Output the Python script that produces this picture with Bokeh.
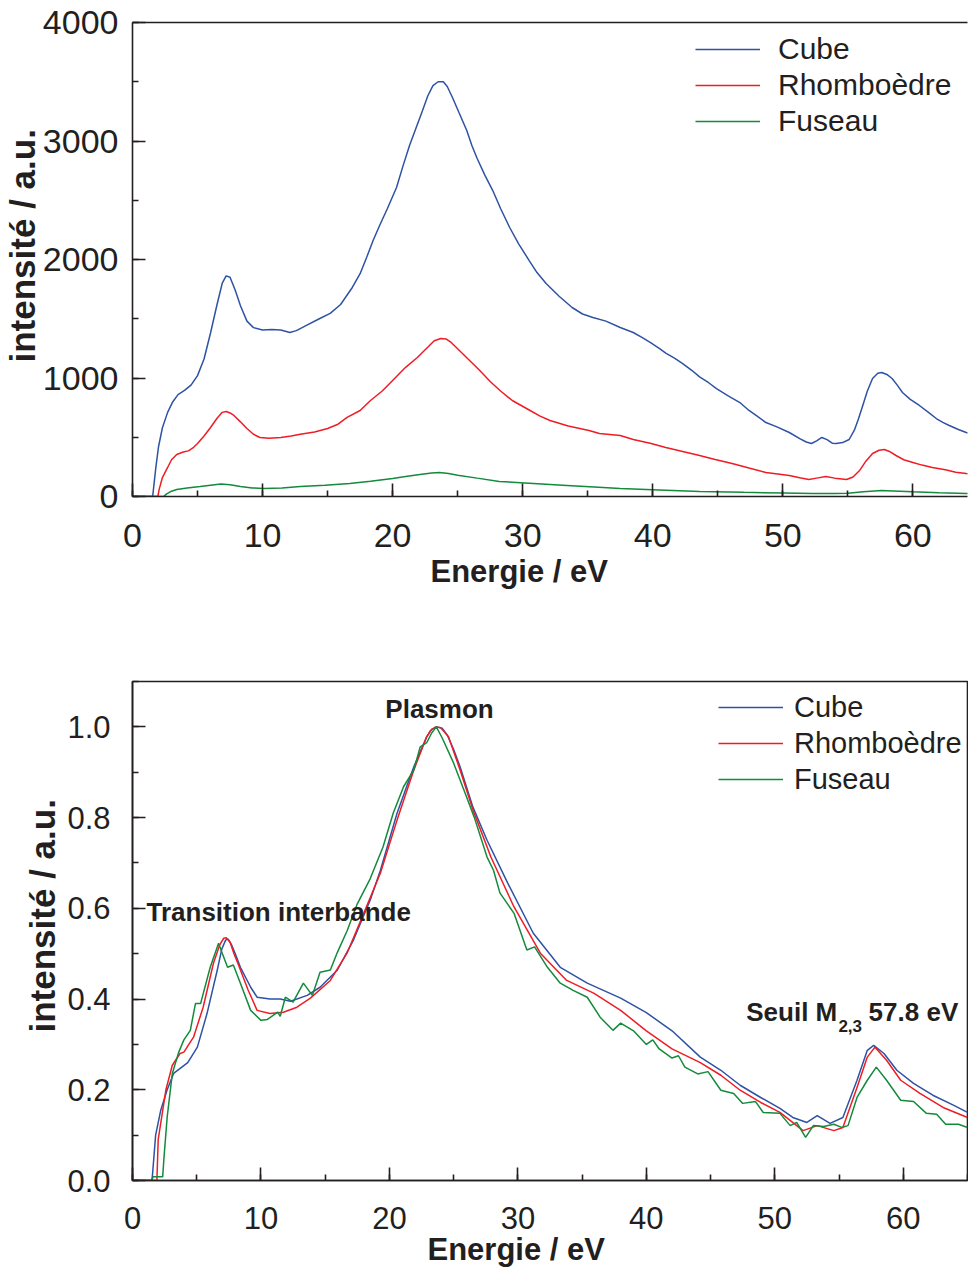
from bokeh.plotting import figure
from bokeh.models import (Range1d, LinearAxis, Legend, LegendItem, Label, SingleIntervalTicker,
                          FixedTicker, PrintfTickFormatter, Title)
from bokeh.layouts import column
from bokeh.embed import file_html
from bokeh.resources import INLINE

# ---------------- data: top panel (raw intensity) ----------------
cube_E = [0, 1.55, 1.65, 1.8, 2.0, 2.3, 2.7, 3.1, 3.5, 4.0, 4.5, 5.0, 5.5, 6.0, 6.5, 6.9, 7.2, 7.5, 7.9, 8.3,
          8.8, 9.3, 10.0, 10.7, 11.4, 12.1, 12.6, 13.3, 14.4, 15.2, 16.0, 16.9, 17.5, 18.0, 18.5, 19.0, 19.6,
          20.3, 20.8, 21.3, 21.8, 22.3, 22.7, 23.1, 23.5, 23.9, 24.2, 24.6, 25.1, 25.7, 26.1, 26.5, 27.1,
          27.7, 28.3, 29.0, 29.7, 30.5, 31.1, 31.8, 32.8, 33.8, 34.6, 35.4, 36.4, 37.5, 38.5, 39.2, 39.8,
          40.5, 41.0, 41.7, 42.3, 43.0, 43.6, 44.3, 44.9, 45.8, 46.7, 47.4, 48.0, 48.7, 49.5, 50.5, 51.3,
          51.8, 52.2, 52.6, 53.0, 53.4, 53.8, 54.1, 54.6, 55.1, 55.5, 55.8, 56.1, 56.5, 56.9, 57.3, 57.6,
          58.0, 58.4, 58.8, 59.2, 59.8, 60.5, 61.2, 61.8, 62.3, 62.8, 63.5, 64.1, 64.5]
cube_I = [0, 0, 100, 250, 420, 580, 710, 800, 860, 895, 940, 1020, 1160, 1380, 1620, 1800, 1862, 1850, 1740, 1610,
          1480, 1425, 1405, 1410, 1405, 1384, 1400, 1440, 1502, 1545, 1620, 1764, 1880, 2017, 2160, 2287, 2430,
          2608, 2790, 2962, 3110, 3257, 3380, 3468, 3500, 3500, 3460, 3367, 3240, 3089, 2960, 2852, 2710,
          2582, 2430, 2270, 2130, 1991, 1890, 1797, 1690, 1595, 1540, 1511, 1480, 1426, 1384, 1340, 1300,
          1250, 1210, 1165, 1122, 1065, 1010, 960, 911, 850, 793, 726, 680, 624, 590, 540, 489,
          460, 447, 470, 498, 480, 450, 447, 455, 481, 560, 650, 751, 890, 996, 1040, 1046,
          1030, 996, 940, 878, 820, 768, 710, 658, 625, 599, 565, 540, 530]

rhombo_E = [0, 1.95, 2.05, 2.3, 2.7, 3.0, 3.4, 3.9, 4.3, 4.7, 5.0, 5.5, 6.0, 6.5, 6.9, 7.2, 7.5, 7.8, 8.3,
            8.8, 9.3, 9.8, 10.5, 11.4, 12.2, 12.9, 14.0, 15.0, 15.8, 16.5, 17.5, 18.3, 19.2, 20.0, 21.0,
            21.9, 22.7, 23.2, 23.7, 24.1, 24.5, 24.9, 25.8, 26.7, 27.5, 28.3, 29.2, 30.5, 31.3, 32.1, 33.5,
            35.1, 35.9, 37.5, 38.5, 39.8, 41.0, 42.3, 43.6, 44.8, 46.1, 47.4, 48.7, 49.6, 50.5, 51.3, 52.0,
            52.6, 53.3, 54.0, 54.9, 55.4, 55.9, 56.4, 56.9, 57.4, 57.8, 58.2, 58.7, 59.3, 60.0, 60.7, 61.5,
            62.5, 63.3, 64.1, 64.5]
rhombo_I = [0, 0, 60, 160, 245, 310, 355, 375, 385, 415, 447, 510, 582, 660, 710, 717, 705, 684, 630,
            574, 525, 498, 492, 498, 510, 525, 545, 574, 610, 667, 726, 810, 890, 979, 1090,
            1173, 1260, 1315, 1333, 1330, 1300, 1257, 1160, 1063, 970, 890, 810, 730, 680, 641, 595,
            557, 532, 515, 481, 450, 413, 380, 346, 312, 278, 240, 203, 190, 177, 158, 143,
            155, 169, 155, 143, 165, 219, 300, 363, 390, 397, 380, 346, 310, 287, 265, 245,
            225, 205, 194, 190]

fus_E = [0, 2.4, 2.6, 3.0, 3.4, 4.2, 5.2, 6.0, 6.8, 7.5, 8.3, 9.2, 10.1, 11.5, 12.9, 14.8, 16.7, 18.3,
         20.0, 21.0, 22.1, 23.0, 23.6, 24.3, 25.0, 26.5, 28.2, 30.5, 33.4, 35.5, 37.5, 40.0, 43.6, 47.0,
         50.0, 52.3, 54.0, 55.0, 56.2, 57.6, 58.5, 60.0, 62.0, 64.1, 64.5]
fus_I = [0, 0, 20, 45, 59, 72, 84, 95, 105, 100, 84, 72, 68, 72, 84, 95, 110, 128,
         152, 168, 186, 198, 203, 195, 180, 155, 127, 112, 93, 80, 68, 57, 42, 35,
         30, 25, 25, 27, 40, 51, 47, 40, 32, 25, 25]

# ---------------- data: bottom panel (normalised) ----------------
ncube_E = [0, 1.5, 1.55, 1.8, 2.2, 2.7, 3.2, 4.3, 5.05, 5.8, 6.6, 6.95, 7.25, 7.45, 7.7, 8.0, 8.4, 9.2, 9.7,
           10.7, 11.5, 12.3, 13.6, 14.6, 15.95, 17.2, 18.5, 19.3, 20.6, 21.9, 22.9, 23.3, 23.7, 24.1, 24.5,
           25.0, 25.5, 26.5, 27.6, 29.2, 31.2, 33.3, 35.4, 38.0, 40.0, 42.0, 44.2, 45.8, 47.3, 48.9, 50.4,
           51.4, 52.5, 53.3, 54.3, 55.3, 56.4, 57.2, 57.7, 58.5, 59.5, 60.8, 62.3, 63.9, 65.0]
ncube_I = [0, 0, 0.01, 0.10, 0.155, 0.20, 0.236, 0.26, 0.294, 0.368, 0.464, 0.51, 0.53, 0.532, 0.52, 0.50, 0.47, 0.426, 0.404,
           0.40, 0.40, 0.395, 0.408, 0.426, 0.464, 0.53, 0.618, 0.684, 0.81, 0.912, 0.978, 0.995, 1.0, 0.997, 0.982,
           0.95, 0.912, 0.823, 0.75, 0.656, 0.545, 0.47, 0.435, 0.402, 0.37, 0.33, 0.272, 0.243, 0.21, 0.183, 0.159,
           0.139, 0.128, 0.143, 0.126, 0.139, 0.221, 0.287, 0.298, 0.28, 0.243, 0.214, 0.188, 0.166, 0.15]

nrhombo_E = [0, 1.9, 2.0, 2.6, 3.1, 3.7, 4.0, 4.75, 5.5, 6.3, 6.8, 7.1, 7.3, 7.6, 7.9, 8.2, 9.0, 9.7, 10.7,
             11.75, 12.8, 13.85, 15.4, 16.7, 18.0, 19.3, 20.6, 21.9, 22.9, 23.2, 23.6, 24.0, 24.6, 25.5, 26.5,
             27.9, 29.7, 31.75, 33.8, 35.9, 38.0, 40.0, 42.0, 44.2, 45.8, 47.3, 48.9, 50.4, 52.2, 53.3, 54.6,
             55.3, 56.4, 57.2, 57.8, 58.7, 59.8, 61.3, 63.1, 65.0]
nrhombo_I = [0, 0, 0.09, 0.2, 0.254, 0.28, 0.283, 0.316, 0.382, 0.479, 0.52, 0.534, 0.535, 0.525, 0.50, 0.479, 0.42, 0.375, 0.368,
             0.371, 0.382, 0.402, 0.441, 0.501, 0.589, 0.678, 0.795, 0.905, 0.978, 0.992, 1.0, 0.998, 0.978, 0.905, 0.817,
             0.713, 0.603, 0.501, 0.441, 0.413, 0.375, 0.33, 0.29, 0.26, 0.232, 0.199, 0.172, 0.15, 0.11, 0.121, 0.11,
             0.117, 0.205, 0.272, 0.294, 0.265, 0.221, 0.192, 0.161, 0.139]

nfus_E = [0, 1.5, 1.6, 2.35, 2.45, 2.7, 3.1, 3.6, 4.0, 4.5, 4.9, 5.3, 6.05, 6.7, 7.0, 7.4, 7.85, 8.4, 9.2,
          10.0, 10.5, 11.3, 11.5, 11.9, 12.5, 13.3, 14.0, 14.6, 15.4, 15.95, 16.7, 17.5, 18.5, 19.5, 20.3,
          21.1, 21.9, 22.4, 22.9, 23.3, 23.65, 24.1, 25.0, 25.8, 26.6, 27.6, 28.1, 28.6, 29.7, 30.7, 31.3,
          32.3, 33.3, 34.3, 35.4, 36.4, 37.4, 38.0, 39.0, 40.0, 40.5, 41.0, 42.0, 42.5, 43.0, 44.0, 44.8,
          45.8, 46.8, 47.5, 48.5, 49.1, 50.4, 51.2, 51.7, 52.4, 53.0, 53.8, 54.6, 55.2, 55.7, 56.4, 57.2,
          57.9, 58.7, 59.8, 60.8, 61.8, 62.6, 63.3, 64.3, 65.0]
nfus_I = [0, 0, 0.008, 0.008, 0.05, 0.14, 0.236, 0.283, 0.31, 0.331, 0.39, 0.39, 0.47, 0.523, 0.50, 0.47, 0.475, 0.435, 0.375,
          0.353, 0.355, 0.371, 0.362, 0.404, 0.393, 0.435, 0.408, 0.459, 0.464, 0.503, 0.55, 0.61, 0.665, 0.735, 0.81,
          0.868, 0.905, 0.956, 0.965, 0.987, 1.0, 0.976, 0.92, 0.861, 0.801, 0.713, 0.684, 0.634, 0.589, 0.508, 0.515,
          0.47, 0.435, 0.419, 0.404, 0.36, 0.331, 0.347, 0.33, 0.30, 0.31, 0.29, 0.27, 0.275, 0.25, 0.235, 0.24,
          0.199, 0.192, 0.17, 0.174, 0.15, 0.148, 0.121, 0.128, 0.095, 0.121, 0.119, 0.124, 0.117, 0.121, 0.183, 0.221,
          0.25, 0.221, 0.177, 0.174, 0.148, 0.146, 0.124, 0.124, 0.117]

names = ["Cube", "Rhomboèdre", "Fuseau"]
colors = ["#2e52a4", "#ee1d25", "#138a3c"]
x_title = "Energie / eV"
y_title = "intensité / a.u."

FONT = "Liberation Sans"
INK = "#231f20"


def style_axis(ax, size):
    ax.axis_line_color = INK
    ax.axis_line_width = 1.6
    ax.major_tick_line_color = INK
    ax.minor_tick_line_color = INK
    ax.major_tick_line_width = 1.6
    ax.minor_tick_line_width = 1.6
    ax.major_tick_in = 13
    ax.major_tick_out = 0
    ax.minor_tick_in = 6
    ax.minor_tick_out = 0
    ax.major_label_text_font = FONT
    ax.major_label_text_font_size = size
    ax.major_label_text_color = INK


def make_legend(p, renderers, loc, size, standoff):
    leg = Legend(items=[LegendItem(label=n, renderers=[r]) for n, r in zip(names, renderers)],
                 location=loc)
    leg.label_text_font = FONT
    leg.label_text_font_size = size
    leg.label_text_color = INK
    leg.glyph_width = 65
    leg.glyph_height = 36
    leg.label_height = 36
    leg.label_standoff = standoff
    leg.spacing = 0
    leg.padding = 0
    leg.margin = 0
    leg.border_line_color = None
    leg.background_fill_alpha = 0
    p.add_layout(leg)


def axis_title(p, text, side, offset, size, standoff):
    p.add_layout(Title(text=text, align="left", offset=offset, standoff=standoff,
                       text_font=FONT, text_font_style="bold", text_font_size=size,
                       text_color=INK), side)


def note(p, x, y, text, align="left", size="26px", base="middle"):
    p.add_layout(Label(x=x, y=y, text=text, text_align=align, text_baseline=base,
                       text_font=FONT, text_font_style="bold", text_font_size=size, text_color=INK))


# ---------------- top figure ----------------
p1 = figure(width=968, height=648, x_range=Range1d(0, 64.2), y_range=Range1d(0, 4000),
            output_backend="svg", toolbar_location=None,
            min_border_left=132, min_border_right=0, min_border_top=22, min_border_bottom=152)
p1.outline_line_color = None
p1.grid.visible = False
p1.xaxis.ticker = SingleIntervalTicker(interval=10, num_minor_ticks=2)
p1.yaxis.ticker = SingleIntervalTicker(interval=1000, num_minor_ticks=2)
for ax in p1.xaxis + p1.yaxis:
    style_axis(ax, "34px")
p1.xaxis.major_label_standoff = 27
p1.yaxis.major_label_standoff = 14
top_ax = LinearAxis(ticker=FixedTicker(ticks=[]), axis_line_color=INK, axis_line_width=1.6,
                    major_tick_line_color=None, minor_tick_line_color=None)
p1.add_layout(top_ax, "above")
axis_title(p1, x_title, "below", 298, "31px", 5)
axis_title(p1, y_title, "left", 134, "35px", -4)

rs1 = []
for (E, I), c in zip([(cube_E, cube_I), (rhombo_E, rhombo_I), (fus_E, fus_I)], colors):
    rs1.append(p1.line(E, I, line_color=c, line_width=1.5))
make_legend(p1, rs1, (563, 357), "30px", 18)

# ---------------- bottom figure ----------------
p2 = figure(width=968, height=619, x_range=Range1d(0, 65), y_range=Range1d(0, 1.1),
            output_backend="svg", toolbar_location=None,
            min_border_left=132, min_border_right=1, min_border_top=33, min_border_bottom=87)
p2.outline_line_color = INK
p2.outline_line_width = 1.6
p2.grid.visible = False
p2.xaxis.ticker = SingleIntervalTicker(interval=10, num_minor_ticks=2)
p2.yaxis.ticker = SingleIntervalTicker(interval=0.2, num_minor_ticks=2)
p2.yaxis.formatter = PrintfTickFormatter(format="%.1f")
for ax in p2.xaxis + p2.yaxis:
    style_axis(ax, "31px")
p2.xaxis.major_label_standoff = 26
p2.yaxis.major_label_standoff = 22
axis_title(p2, x_title, "below", 295, "31px", -4)
axis_title(p2, y_title, "left", 148, "35px", 6)

rs2 = []
for (E, I), c in zip([(ncube_E, ncube_I), (nrhombo_E, nrhombo_I), (nfus_E, nfus_I)], colors):
    rs2.append(p2.line(E, I, line_color=c, line_width=1.5))
make_legend(p2, rs2, (586, 383), "29px", 11)

note(p2, 23.9, 1.04, "Plasmon", align="center")
note(p2, 1.09, 0.592, "Transition interbande")
note(p2, 54.86, 0.371, "Seuil M", align="right")
note(p2, 54.95, 0.34, "2,3", size="17px")
note(p2, 64.28, 0.371, "57.8 eV", align="right")

layout = column(p1, p2, spacing=0)
open("out.html", "w").write(file_html(layout, INLINE))
